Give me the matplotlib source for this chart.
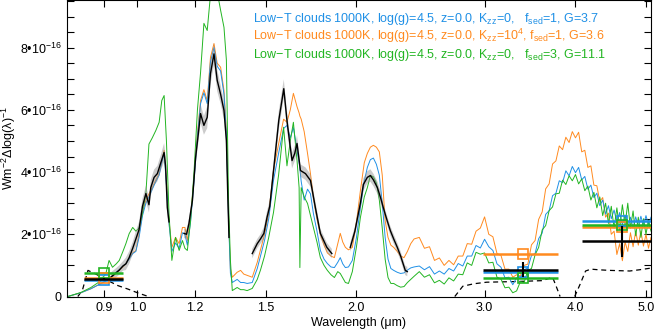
import numpy as np
import matplotlib
matplotlib.use("Agg")
from matplotlib import pyplot as plt
from matplotlib.ticker import FixedLocator, NullLocator, MultipleLocator

plt.rcParams['font.family'] = ['Liberation Sans', 'DejaVu Sans']
plt.rcParams['mathtext.fontset'] = 'custom'
plt.rcParams['mathtext.rm'] = 'Liberation Sans'
plt.rcParams['mathtext.it'] = 'Liberation Sans:italic'
plt.rcParams['mathtext.bf'] = 'Liberation Sans:bold'

nan = np.nan

# ---- model spectra (wavelength in um, flux in 1e-16 W m^-2) ----
wl_nir = [0.802, 0.836, 0.863, 0.891, 0.905, 0.914, 0.924, 0.935, 0.944, 0.955,
          0.964, 0.974, 0.985, 0.995, 1.005, 1.016, 1.027, 1.037, 1.048, 1.060,
          1.071, 1.080, 1.088, 1.096, 1.105, 1.115, 1.128, 1.141, 1.153, 1.162,
          1.171, 1.183, 1.196, 1.209, 1.221, 1.234, 1.247, 1.260, 1.274, 1.287,
          1.301, 1.315, 1.325, 1.334, 1.342, 1.350, 1.371, 1.386, 1.400, 1.415,
          1.438, 1.461, 1.476, 1.495, 1.515, 1.538, 1.563, 1.588, 1.605, 1.622,
          1.638, 1.657, 1.668, 1.672, 1.679, 1.695, 1.713, 1.729, 1.745, 1.765,
          1.784, 1.805, 1.824, 1.845, 1.865, 1.885, 1.900, 1.915, 1.931, 1.950,
          1.974, 2.000, 2.025, 2.050, 2.070, 2.090, 2.110, 2.130, 2.150, 2.170,
          2.190, 2.210, 2.230, 2.250, 2.275, 2.300, 2.325, 2.350, 2.375, 2.400]

green_nir = [0.00, 0.13, 0.29, 0.51, 0.75, 1.16, 0.94, 1.05, 1.16, 1.45,
             1.70, 2.02, 2.22, 2.10, 2.20, 2.66, 3.31, 4.90, 5.10, 5.34,
             5.60, 6.30, 6.46, 5.00, 2.66, 1.16, 1.90, 1.48, 1.80, 1.55,
             1.48, 2.44, 4.00, 6.00, 7.20, 8.78, 8.55, 9.70, 9.90, 9.80,
             9.20, 8.65, 7.60, 3.09, 1.16, 0.19, 0.29, 0.22, 0.22, 0.19,
             0.26, 0.55, 0.85, 1.30, 1.90, 2.70, 3.90, 5.44, 4.20, 5.00,
             5.60, 4.37, 3.50, 0.93, 3.50, 3.20, 2.99, 2.60, 2.22, 1.75,
             1.25, 1.00, 0.84, 0.70, 0.61, 0.80, 0.74, 0.60, 0.45, 0.42,
             0.80, 1.60, 2.54, 3.20, 3.50, 3.89, 3.85, 3.65, 3.10, 2.20,
             1.20, 0.61, 0.42, 0.42, 0.35, 0.30, 0.32, 0.45, 0.55, 0.65]

blue_nir = [0.00, 0.12, 0.25, 0.42, 0.50, 0.58, 0.66, 0.78, 0.86, 0.98,
            1.05, 1.20, 1.38, 1.45, 1.90, 2.60, 3.00, 3.20, 3.45, 3.70,
            3.90, 4.30, 4.60, 3.60, 2.35, 1.45, 1.72, 1.55, 2.05, 2.00,
            1.65, 2.40, 3.70, 5.15, 6.20, 6.55, 6.20, 7.55, 8.00, 7.40,
            7.25, 6.50, 5.20, 2.50, 0.75, 0.45, 0.55, 0.45, 0.45, 0.42,
            0.45, 0.90, 1.30, 1.80, 2.50, 3.73, 4.60, 5.40, 5.50, 5.10,
            5.43, 4.70, 4.30, 4.10, 3.70, 3.10, 3.45, 3.30, 2.67, 2.10,
            1.48, 1.20, 1.06, 0.95, 0.93, 1.10, 1.25, 1.05, 0.93, 0.95,
            1.16, 1.90, 2.86, 3.70, 4.15, 4.40, 4.45, 4.25, 3.90, 3.00,
            1.90, 1.20, 0.90, 0.84, 0.78, 0.74, 0.76, 0.85, 0.92, 0.95]

orange_nir = [0.00, 0.12, 0.25, 0.42, 0.50, 0.56, 0.64, 0.76, 0.84, 0.95,
              1.05, 1.22, 1.40, 1.48, 2.00, 2.70, 3.09, 3.30, 3.50, 3.75,
              3.95, 4.35, 4.70, 3.73, 2.44, 1.58, 1.90, 1.70, 2.22, 2.22,
              1.80, 2.55, 3.80, 5.24, 6.30, 6.65, 6.30, 7.69, 8.13, 7.50,
              7.37, 6.62, 5.30, 2.60, 0.90, 0.62, 0.78, 0.84, 0.72, 0.68,
              0.62, 1.10, 1.50, 2.00, 2.66, 4.05, 4.90, 5.70, 5.60, 6.00,
              6.53, 6.10, 5.90, 5.80, 5.70, 5.30, 4.60, 3.95, 3.20, 2.50,
              2.00, 1.65, 1.40, 1.30, 1.25, 1.70, 2.03, 1.75, 1.58, 1.50,
              1.58, 2.40, 3.40, 4.30, 4.60, 4.80, 4.86, 4.80, 4.65, 3.90,
              2.44, 1.90, 1.65, 1.58, 1.45, 1.30, 1.25, 1.45, 1.70, 1.85]

wl_mir = [2.44, 2.48, 2.52, 2.56, 2.60, 2.64, 2.68, 2.72, 2.76, 2.80,
          2.84, 2.88, 2.92, 2.96, 3.00, 3.04, 3.08, 3.12, 3.16, 3.20,
          3.24, 3.28, 3.32, 3.36, 3.40, 3.44, 3.48, 3.52, 3.56, 3.60,
          3.64, 3.68, 3.72, 3.76, 3.80, 3.84, 3.88, 3.92, 3.96, 4.00,
          4.04, 4.08, 4.12, 4.16, 4.20, 4.24, 4.28, 4.32, 4.36, 4.40,
          4.44, 4.48, 4.52, 4.56, 4.60, 4.64, 4.68, 4.72, 4.76, 4.80,
          4.84, 4.88, 4.92, 4.96, 5.00, 5.04, 5.08]

green_mir = [0.80, 0.62, 0.70, 0.44, 0.52, 0.40, 0.60, 0.50, 0.72, 0.70,
             1.08, 1.00, 1.42, 1.36, 1.40, 1.08, 1.10, 0.62, 0.56, 0.28,
             0.30, 0.12, 0.18, 0.48, 0.45, 0.84, 0.90, 1.34, 1.58, 2.14,
             2.28, 2.76, 2.88, 3.30, 3.32, 3.74, 3.60, 3.88, 3.72, 3.92,
             3.62, 3.78, 3.40, 3.55, 3.10, 3.35, 2.85, 3.20, 2.60, 3.00,
             2.35, 2.90, 2.20, 2.85, 2.15, 2.95, 2.30, 3.00, 2.20, 2.75,
             1.95, 2.55, 1.90, 2.50, 2.00, 2.45, 2.10]

blue_mir = [0.98, 0.86, 0.96, 0.72, 0.82, 0.72, 0.90, 0.82, 1.06, 0.98,
            1.30, 1.30, 1.64, 1.56, 1.84, 1.60, 1.48, 1.05, 0.94, 0.60,
            0.62, 0.38, 0.60, 0.58, 0.86, 0.92, 1.32, 1.38, 1.86, 2.04,
            2.64, 2.76, 3.24, 3.32, 3.72, 3.66, 4.04, 3.88, 4.18, 3.98,
            4.15, 3.75, 3.86, 3.45, 3.58, 3.18, 3.32, 2.92, 3.10, 2.65,
            2.92, 2.50, 2.78, 2.38, 2.70, 2.30, 2.62, 2.22, 2.55, 2.20,
            2.56, 2.24, 2.58, 2.28, 2.60, 2.30, 2.55]

orange_mir = [1.90, 1.55, 1.60, 1.16, 1.24, 1.00, 1.16, 1.02, 1.30, 1.30,
              1.70, 1.68, 2.10, 2.20, 2.56, 2.00, 1.92, 1.38, 1.32, 0.88,
              0.88, 0.62, 0.70, 0.66, 1.00, 1.04, 1.66, 1.80, 2.48, 2.72,
              3.46, 3.62, 4.26, 4.36, 4.84, 4.72, 5.12, 4.95, 5.30, 5.10,
              5.28, 4.65, 4.70, 4.15, 4.20, 3.58, 3.56, 3.05, 3.18, 2.55,
              2.68, 2.00, 2.10, 1.35, 1.70, 1.15, 1.75, 1.45, 2.05, 1.60,
              2.10, 1.65, 2.10, 1.62, 2.00, 1.55, 1.90]

# ---- observed spectrum ----
wl_obs = [0.919, 0.930, 0.944, 0.955, 0.964, 0.974, 0.985, 0.995, 1.005, 1.016,
          1.027, 1.037, 1.043, 1.054, 1.065, 1.076, 1.088, 1.093, 1.099, 1.105,
          1.130, 1.159, 1.168, 1.177, 1.190, 1.202, 1.212, 1.221, 1.234, 1.247,
          1.260, 1.274, 1.287, 1.301, 1.315, 1.325, 1.330, 1.336, 1.390, 1.438,
          1.461, 1.476, 1.492, 1.507, 1.520, 1.540, 1.564, 1.589, 1.605, 1.620,
          1.631, 1.645, 1.657, 1.675, 1.702, 1.729, 1.756, 1.784, 1.821, 1.850,
          1.900, 1.961, 1.990, 2.025, 2.044, 2.070, 2.090, 2.110, 2.137, 2.160,
          2.177, 2.200, 2.226, 2.250, 2.276, 2.300, 2.334, 2.349]

flux_obs = [0.62, 0.72, 0.85, 0.98, 1.05, 1.25, 1.55, 1.85, 2.15, 2.90,
            3.31, 2.95, 3.50, 3.83, 3.95, 4.28, 4.63, 4.20, 2.86, 2.40,
            nan, 2.03, 2.00, 2.35, 3.09, 4.47, 5.20, 5.88, 5.50, 5.76,
            7.17, 7.80, 6.95, 6.50, 5.98, 5.02, 3.50, 1.90, nan, 1.38,
            1.70, 1.85, 2.03, 2.55, 2.90, 4.16, 5.66, 6.68, 5.66, 4.90,
            4.37, 4.60, 4.92, 4.05, 3.95, 3.73, 2.86, 2.03, 1.58, 1.38,
            nan, 1.58, 2.10, 3.00, 3.60, 3.83, 3.89, 3.75, 3.50, 3.15,
            2.86, 2.50, 2.12, 1.85, 1.58, 1.30, 0.84, 0.80]

err_obs = [0.15, 0.15, 0.15, 0.15, 0.20, 0.20, 0.20, 0.25, 0.25, 0.25,
           0.25, 0.25, 0.25, 0.25, 0.25, 0.25, 0.30, 0.30, 0.30, 0.20,
           nan, 0.15, 0.15, 0.15, 0.20, 0.25, 0.30, 0.30, 0.30, 0.35,
           0.35, 0.35, 0.35, 0.30, 0.30, 0.25, 0.20, 0.15, nan, 0.15,
           0.15, 0.15, 0.20, 0.20, 0.20, 0.25, 0.30, 0.30, 0.30, 0.25,
           0.25, 0.25, 0.25, 0.20, 0.20, 0.20, 0.20, 0.15, 0.15, 0.15,
           nan, 0.15, 0.15, 0.20, 0.20, 0.20, 0.20, 0.20, 0.20, 0.20,
           0.15, 0.15, 0.15, 0.15, 0.15, 0.15, 0.15, 0.15]

# ---- photometry (z, L', M') ----
phot_wl = [0.900, 3.385, 4.630]
phot_lo = [0.845, 2.988, 4.087]
phot_hi = [0.954, 3.780, 5.200]
phot_obs = [0.55, 0.86, 1.77]
phot_obs_err = [0.03, 0.24, 0.51]
phot_blue = [0.52, 0.80, 2.44]
phot_orange = [0.58, 1.37, 2.25]
phot_green = [0.76, 0.59, 2.31]

# ---- filter curves (scaled) ----
filt_z_wl = [0.828, 0.840, 0.855, 0.880, 0.900, 0.920, 0.940, 0.970, 1.000, 1.035]
filt_z = [0.00, 0.20, 0.84, 0.70, 0.58, 0.46, 0.35, 0.24, 0.12, 0.00]
filt_L_wl = [2.73, 2.80, 2.90, 3.02, 3.30, 3.60, 3.72, 3.76, 3.81]
filt_L = [0.00, 0.33, 0.41, 0.46, 0.48, 0.51, 0.62, 0.35, 0.00]
filt_M_wl = [3.99, 4.06, 4.13, 4.20, 4.30, 4.45, 4.60, 4.75, 4.90, 5.00, 5.10]
filt_M = [0.00, 0.40, 0.82, 0.88, 0.86, 0.84, 0.83, 0.82, 0.86, 0.89, 0.92]

c_blue = "#1f90e6"
c_orange = "#ff8a1f"
c_green = "#22b522"

labels = [r"Low−T clouds 1000K, log(g)=4.5, z=0.0, K$_{\mathregular{zz}}$=0,   f$_{\mathregular{sed}}$=1, G=3.7",
          r"Low−T clouds 1000K, log(g)=4.5, z=0.0, K$_{\mathregular{zz}}$=10$^{\mathregular{4}}$, f$_{\mathregular{sed}}$=1, G=3.6",
          r"Low−T clouds 1000K, log(g)=4.5, z=0.0, K$_{\mathregular{zz}}$=0,   f$_{\mathregular{sed}}$=3, G=11.1"]

wl_mod = np.array(wl_nir + wl_mir)
models = [(np.array(blue_nir + blue_mir), c_blue),
          (np.array(orange_nir + orange_mir), c_orange),
          (np.array(green_nir + green_mir), c_green)]

fig = plt.figure(figsize=(6.54, 3.31), dpi=100)
ax = fig.add_axes([0.1024, 0.1042, 0.8930, 0.8948])

for fw, ff in [(filt_z_wl, filt_z), (filt_L_wl, filt_L), (filt_M_wl, filt_M)]:
    ax.plot(fw, ff, color="black", lw=0.9, ls=(0, (4, 3)), zorder=1)

for flux, col in [models[1], models[0], models[2]]:
    ax.plot(wl_mod, flux, color=col, lw=0.7, zorder=2)

wo = np.array(wl_obs)
fo = np.array(flux_obs)
eo = np.array(err_obs)
ax.fill_between(wo, fo - eo, fo + eo, color="0.55", alpha=0.45, lw=0, zorder=3)
ax.plot(wo, fo, color="black", lw=1.0, zorder=4)

for vals, col in [(phot_blue, c_blue), (phot_orange, c_orange), (phot_green, c_green)]:
    ax.hlines(vals, phot_lo, phot_hi, colors=col, lw=1.8, zorder=5)
    ax.plot(phot_wl, vals, ls="none", marker="s", ms=7, mfc="none", mec=col, mew=1.2, zorder=6)
ax.hlines(phot_obs, phot_lo, phot_hi, colors="black", lw=1.8, zorder=7)
ax.errorbar(phot_wl, phot_obs, yerr=phot_obs_err, fmt="none", ecolor="black", elinewidth=1.5,
            capsize=0, zorder=8)

ax.set_xscale("log")
ax.set_xlim(0.80, 5.08)
ax.set_ylim(0, 9.52)

xt = [0.9, 1.0, 1.2, 1.5, 2.0, 3.0, 4.0, 5.0]
ax.xaxis.set_major_locator(FixedLocator(xt))
ax.xaxis.set_minor_locator(NullLocator())
ax.set_xticklabels(["{:.1f}".format(v) for v in xt])
ax.set_yticks([0, 2, 4, 6, 8])
ax.set_yticklabels(["0"] + ["{:d}•10$^{{-16}}$".format(v) for v in [2, 4, 6, 8]])
ax.yaxis.set_minor_locator(MultipleLocator(0.5))
ax.tick_params(which="both", direction="in", top=True, right=True, length=5, width=0.8,
               labelsize=9, pad=4)

ax.set_xlabel("Wavelength (μm)", fontsize=9, labelpad=2)
ax.set_ylabel("Wm$^{-2}$Δlog(λ)$^{-1}$", fontsize=9, labelpad=1)
for s in ax.spines.values():
    s.set_linewidth(0.8)

for i, (txt, col) in enumerate(zip(labels, [c_blue, c_orange, c_green])):
    fig.text(0.387, 0.9344 - i * 0.0544, txt, color=col, fontsize=9, va="baseline")

fig.savefig("out.png", dpi=100)
